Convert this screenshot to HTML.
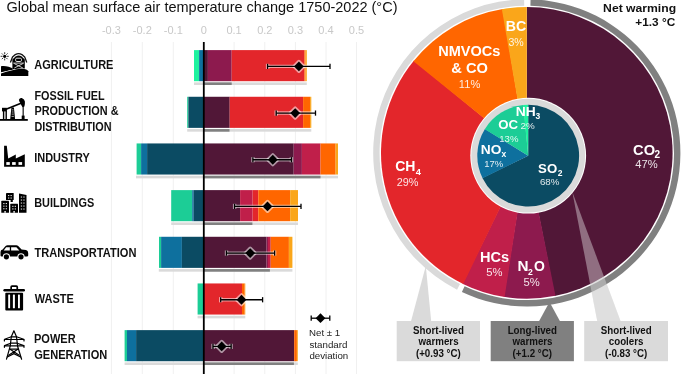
<!DOCTYPE html>
<html><head><meta charset="utf-8"><style>
html,body{margin:0;padding:0;background:#fff;overflow:hidden;}
svg{display:block;}
svg{will-change:transform;}
text{font-family:"Liberation Sans",sans-serif;}
</style></head><body>
<svg width="685" height="374" viewBox="0 0 685 374">
<rect width="685" height="374" fill="#fff"/>
<text x="6.48" y="12.30" font-size="14.5" font-weight="normal" fill="#111" textLength="391.01" lengthAdjust="spacingAndGlyphs">Global mean surface air temperature change 1750-2022 (°C)</text>
<line x1="111.40" y1="42" x2="111.40" y2="374" stroke="#f0f0f0" stroke-width="1"/>
<text x="111.40" y="33.8" font-size="11" text-anchor="middle" fill="#c8c8c8">-0.3</text>
<line x1="142.30" y1="42" x2="142.30" y2="374" stroke="#f0f0f0" stroke-width="1"/>
<text x="142.30" y="33.8" font-size="11" text-anchor="middle" fill="#c8c8c8">-0.2</text>
<line x1="173.30" y1="42" x2="173.30" y2="374" stroke="#f0f0f0" stroke-width="1"/>
<text x="173.30" y="33.8" font-size="11" text-anchor="middle" fill="#c8c8c8">-0.1</text>
<text x="203.80" y="33.8" font-size="11" text-anchor="middle" fill="#c8c8c8">0</text>
<line x1="234.10" y1="42" x2="234.10" y2="374" stroke="#f0f0f0" stroke-width="1"/>
<text x="234.10" y="33.8" font-size="11" text-anchor="middle" fill="#c8c8c8">0.1</text>
<line x1="264.80" y1="42" x2="264.80" y2="374" stroke="#f0f0f0" stroke-width="1"/>
<text x="264.80" y="33.8" font-size="11" text-anchor="middle" fill="#c8c8c8">0.2</text>
<line x1="295.40" y1="42" x2="295.40" y2="374" stroke="#f0f0f0" stroke-width="1"/>
<text x="295.40" y="33.8" font-size="11" text-anchor="middle" fill="#c8c8c8">0.3</text>
<line x1="326.00" y1="42" x2="326.00" y2="374" stroke="#f0f0f0" stroke-width="1"/>
<text x="326.00" y="33.8" font-size="11" text-anchor="middle" fill="#c8c8c8">0.4</text>
<line x1="356.50" y1="42" x2="356.50" y2="374" stroke="#f0f0f0" stroke-width="1"/>
<text x="356.50" y="33.8" font-size="11" text-anchor="middle" fill="#c8c8c8">0.5</text>
<rect x="194.00" y="50.10" width="5.10" height="31.1" fill="#1ef29f"/>
<rect x="199.10" y="50.10" width="4.70" height="31.1" fill="#0e709e"/>
<rect x="203.80" y="50.10" width="4.10" height="31.1" fill="#511737"/>
<rect x="207.90" y="50.10" width="23.80" height="31.1" fill="#8d1a4e"/>
<rect x="231.70" y="50.10" width="72.70" height="31.1" fill="#e3262b"/>
<rect x="304.40" y="50.10" width="1.20" height="31.1" fill="#ff6600"/>
<rect x="305.60" y="50.10" width="1.20" height="31.1" fill="#faa61a"/>
<rect x="194.00" y="82.40" width="112.80" height="2.6" fill="#dadada"/>
<rect x="203.80" y="82.40" width="27.90" height="2.6" fill="#808080"/>
<rect x="187.20" y="96.77" width="1.20" height="31.1" fill="#1ccd96"/>
<rect x="188.40" y="96.77" width="15.40" height="31.1" fill="#0b4b63"/>
<rect x="203.80" y="96.77" width="25.90" height="31.1" fill="#511737"/>
<rect x="229.70" y="96.77" width="73.40" height="31.1" fill="#e3262b"/>
<rect x="303.10" y="96.77" width="7.00" height="31.1" fill="#ff6600"/>
<rect x="310.10" y="96.77" width="1.20" height="31.1" fill="#faa61a"/>
<rect x="187.20" y="129.07" width="124.10" height="2.6" fill="#dadada"/>
<rect x="203.80" y="129.07" width="25.70" height="2.6" fill="#808080"/>
<rect x="136.60" y="143.44" width="4.50" height="31.1" fill="#1ccd96"/>
<rect x="141.10" y="143.44" width="6.00" height="31.1" fill="#0e709e"/>
<rect x="147.10" y="143.44" width="56.70" height="31.1" fill="#0b4b63"/>
<rect x="203.80" y="143.44" width="89.90" height="31.1" fill="#511737"/>
<rect x="293.70" y="143.44" width="8.20" height="31.1" fill="#8d1a4e"/>
<rect x="301.90" y="143.44" width="18.60" height="31.1" fill="#c01f4a"/>
<rect x="320.50" y="143.44" width="15.10" height="31.1" fill="#ff6600"/>
<rect x="335.60" y="143.44" width="2.40" height="31.1" fill="#faa61a"/>
<rect x="136.00" y="175.74" width="202.00" height="2.6" fill="#dadada"/>
<rect x="203.80" y="175.74" width="116.70" height="2.6" fill="#808080"/>
<rect x="171.20" y="190.11" width="21.00" height="31.1" fill="#1ccd96"/>
<rect x="192.20" y="190.11" width="1.50" height="31.1" fill="#0e709e"/>
<rect x="193.70" y="190.11" width="10.10" height="31.1" fill="#0b4b63"/>
<rect x="203.80" y="190.11" width="36.30" height="31.1" fill="#511737"/>
<rect x="240.10" y="190.11" width="12.50" height="31.1" fill="#c01f4a"/>
<rect x="252.60" y="190.11" width="5.70" height="31.1" fill="#e3262b"/>
<rect x="258.30" y="190.11" width="31.90" height="31.1" fill="#ff6600"/>
<rect x="290.20" y="190.11" width="7.80" height="31.1" fill="#faa61a"/>
<rect x="171.20" y="222.41" width="126.80" height="2.6" fill="#dadada"/>
<rect x="203.80" y="222.41" width="48.60" height="2.6" fill="#808080"/>
<rect x="159.00" y="236.78" width="2.10" height="31.1" fill="#1ccd96"/>
<rect x="161.10" y="236.78" width="20.80" height="31.1" fill="#0e709e"/>
<rect x="181.90" y="236.78" width="21.90" height="31.1" fill="#0b4b63"/>
<rect x="203.80" y="236.78" width="62.80" height="31.1" fill="#511737"/>
<rect x="266.60" y="236.78" width="1.40" height="31.1" fill="#8d1a4e"/>
<rect x="268.00" y="236.78" width="2.70" height="31.1" fill="#c01f4a"/>
<rect x="270.70" y="236.78" width="18.20" height="31.1" fill="#ff6600"/>
<rect x="288.90" y="236.78" width="3.50" height="31.1" fill="#faa61a"/>
<rect x="158.80" y="269.08" width="133.60" height="2.6" fill="#dadada"/>
<rect x="203.80" y="269.08" width="66.10" height="2.6" fill="#808080"/>
<rect x="197.60" y="283.45" width="6.20" height="31.1" fill="#1ccd96"/>
<rect x="203.80" y="283.45" width="38.20" height="31.1" fill="#e3262b"/>
<rect x="242.00" y="283.45" width="2.70" height="31.1" fill="#ff6600"/>
<rect x="244.70" y="283.45" width="0.60" height="31.1" fill="#faa61a"/>
<rect x="197.60" y="315.75" width="47.70" height="2.6" fill="#dadada"/>
<rect x="124.60" y="330.12" width="2.40" height="31.1" fill="#1ccd96"/>
<rect x="127.00" y="330.12" width="9.10" height="31.1" fill="#0e709e"/>
<rect x="136.10" y="330.12" width="67.70" height="31.1" fill="#0b4b63"/>
<rect x="203.80" y="330.12" width="90.40" height="31.1" fill="#511737"/>
<rect x="294.20" y="330.12" width="2.70" height="31.1" fill="#ff6600"/>
<rect x="296.90" y="330.12" width="0.90" height="31.1" fill="#faa61a"/>
<rect x="124.60" y="362.42" width="173.20" height="2.6" fill="#dadada"/>
<rect x="203.80" y="362.42" width="90.10" height="2.6" fill="#808080"/>
<line x1="203.8" y1="42" x2="203.8" y2="374" stroke="#000" stroke-width="1.8"/>
<g stroke="#fff" stroke-opacity="0.55" fill="none" stroke-width="3.4"><line x1="267.60" y1="66.40" x2="330.00" y2="66.40"/><line x1="267.60" y1="63.80" x2="267.60" y2="69.00"/><line x1="330.00" y1="63.80" x2="330.00" y2="69.00"/><path d="M294.00,66.40 L298.90,61.50 L303.80,66.40 L298.90,71.30 Z" stroke-linejoin="round"/></g>
<g stroke="#000" stroke-width="1.3" fill="none"><line x1="267.60" y1="66.40" x2="330.00" y2="66.40"/><line x1="267.60" y1="63.80" x2="267.60" y2="69.00"/><line x1="330.00" y1="63.80" x2="330.00" y2="69.00"/></g>
<path d="M294.00,66.40 L298.90,61.50 L303.80,66.40 L298.90,71.30 Z" fill="#000"/>
<g stroke="#fff" stroke-opacity="0.55" fill="none" stroke-width="3.4"><line x1="276.20" y1="113.07" x2="315.50" y2="113.07"/><line x1="276.20" y1="110.47" x2="276.20" y2="115.67"/><line x1="315.50" y1="110.47" x2="315.50" y2="115.67"/><path d="M290.30,113.07 L295.20,108.17 L300.10,113.07 L295.20,117.97 Z" stroke-linejoin="round"/></g>
<g stroke="#000" stroke-width="1.3" fill="none"><line x1="276.20" y1="113.07" x2="315.50" y2="113.07"/><line x1="276.20" y1="110.47" x2="276.20" y2="115.67"/><line x1="315.50" y1="110.47" x2="315.50" y2="115.67"/></g>
<path d="M290.30,113.07 L295.20,108.17 L300.10,113.07 L295.20,117.97 Z" fill="#000"/>
<g stroke="#fff" stroke-opacity="0.55" fill="none" stroke-width="3.4"><line x1="252.90" y1="159.74" x2="291.40" y2="159.74"/><line x1="252.90" y1="157.14" x2="252.90" y2="162.34"/><line x1="291.40" y1="157.14" x2="291.40" y2="162.34"/><path d="M267.90,159.74 L272.80,154.84 L277.70,159.74 L272.80,164.64 Z" stroke-linejoin="round"/></g>
<g stroke="#000" stroke-width="1.3" fill="none"><line x1="252.90" y1="159.74" x2="291.40" y2="159.74"/><line x1="252.90" y1="157.14" x2="252.90" y2="162.34"/><line x1="291.40" y1="157.14" x2="291.40" y2="162.34"/></g>
<path d="M267.90,159.74 L272.80,154.84 L277.70,159.74 L272.80,164.64 Z" fill="#000"/>
<g stroke="#fff" stroke-opacity="0.55" fill="none" stroke-width="3.4"><line x1="234.60" y1="206.41" x2="301.00" y2="206.41"/><line x1="234.60" y1="203.81" x2="234.60" y2="209.01"/><line x1="301.00" y1="203.81" x2="301.00" y2="209.01"/><path d="M262.60,206.41 L267.50,201.51 L272.40,206.41 L267.50,211.31 Z" stroke-linejoin="round"/></g>
<g stroke="#000" stroke-width="1.3" fill="none"><line x1="234.60" y1="206.41" x2="301.00" y2="206.41"/><line x1="234.60" y1="203.81" x2="234.60" y2="209.01"/><line x1="301.00" y1="203.81" x2="301.00" y2="209.01"/></g>
<path d="M262.60,206.41 L267.50,201.51 L272.40,206.41 L267.50,211.31 Z" fill="#000"/>
<g stroke="#fff" stroke-opacity="0.55" fill="none" stroke-width="3.4"><line x1="226.50" y1="253.08" x2="274.60" y2="253.08"/><line x1="226.50" y1="250.48" x2="226.50" y2="255.68"/><line x1="274.60" y1="250.48" x2="274.60" y2="255.68"/><path d="M245.30,253.08 L250.20,248.18 L255.10,253.08 L250.20,257.98 Z" stroke-linejoin="round"/></g>
<g stroke="#000" stroke-width="1.3" fill="none"><line x1="226.50" y1="253.08" x2="274.60" y2="253.08"/><line x1="226.50" y1="250.48" x2="226.50" y2="255.68"/><line x1="274.60" y1="250.48" x2="274.60" y2="255.68"/></g>
<path d="M245.30,253.08 L250.20,248.18 L255.10,253.08 L250.20,257.98 Z" fill="#000"/>
<g stroke="#fff" stroke-opacity="0.55" fill="none" stroke-width="3.4"><line x1="220.70" y1="299.75" x2="262.60" y2="299.75"/><line x1="220.70" y1="297.15" x2="220.70" y2="302.35"/><line x1="262.60" y1="297.15" x2="262.60" y2="302.35"/><path d="M236.60,299.75 L241.50,294.85 L246.40,299.75 L241.50,304.65 Z" stroke-linejoin="round"/></g>
<g stroke="#000" stroke-width="1.3" fill="none"><line x1="220.70" y1="299.75" x2="262.60" y2="299.75"/><line x1="220.70" y1="297.15" x2="220.70" y2="302.35"/><line x1="262.60" y1="297.15" x2="262.60" y2="302.35"/></g>
<path d="M236.60,299.75 L241.50,294.85 L246.40,299.75 L241.50,304.65 Z" fill="#000"/>
<g stroke="#fff" stroke-opacity="0.55" fill="none" stroke-width="3.4"><line x1="213.00" y1="346.42" x2="231.10" y2="346.42"/><line x1="213.00" y1="343.82" x2="213.00" y2="349.02"/><line x1="231.10" y1="343.82" x2="231.10" y2="349.02"/><path d="M216.80,346.42 L221.70,341.52 L226.60,346.42 L221.70,351.32 Z" stroke-linejoin="round"/></g>
<g stroke="#000" stroke-width="1.3" fill="none"><line x1="213.00" y1="346.42" x2="231.10" y2="346.42"/><line x1="213.00" y1="343.82" x2="213.00" y2="349.02"/><line x1="231.10" y1="343.82" x2="231.10" y2="349.02"/></g>
<path d="M216.80,346.42 L221.70,341.52 L226.60,346.42 L221.70,351.32 Z" fill="#000"/>
<g stroke="#000" stroke-width="1.3" fill="none"><line x1="311.20" y1="318.20" x2="329.80" y2="318.20"/><line x1="311.20" y1="315.60" x2="311.20" y2="320.80"/><line x1="329.80" y1="315.60" x2="329.80" y2="320.80"/></g>
<path d="M315.60,318.20 L320.50,313.30 L325.40,318.20 L320.50,323.10 Z" fill="#000"/>
<text x="309.02" y="336.00" font-size="9.6" font-weight="normal" fill="#222" textLength="31.18" lengthAdjust="spacingAndGlyphs">Net ± 1</text>
<text x="309.51" y="347.50" font-size="9.6" font-weight="normal" fill="#222" textLength="37.94" lengthAdjust="spacingAndGlyphs">standard</text>
<text x="309.41" y="359.00" font-size="9.6" font-weight="normal" fill="#222" textLength="38.85" lengthAdjust="spacingAndGlyphs">deviation</text>
<text x="34.33" y="68.70" font-size="12.8" font-weight="bold" fill="#111" textLength="79.09" lengthAdjust="spacingAndGlyphs">AGRICULTURE</text>
<text x="34.40" y="99.70" font-size="12.8" font-weight="bold" fill="#111" textLength="70.25" lengthAdjust="spacingAndGlyphs">FOSSIL FUEL</text>
<text x="34.39" y="115.20" font-size="12.8" font-weight="bold" fill="#111" textLength="84.16" lengthAdjust="spacingAndGlyphs">PRODUCTION &amp;</text>
<text x="34.39" y="130.90" font-size="12.8" font-weight="bold" fill="#111" textLength="77.22" lengthAdjust="spacingAndGlyphs">DISTRIBUTION</text>
<text x="34.19" y="162.10" font-size="12.8" font-weight="bold" fill="#111" textLength="55.52" lengthAdjust="spacingAndGlyphs">INDUSTRY</text>
<text x="34.19" y="207.30" font-size="12.8" font-weight="bold" fill="#111" textLength="59.99" lengthAdjust="spacingAndGlyphs">BUILDINGS</text>
<text x="34.59" y="256.50" font-size="12.8" font-weight="bold" fill="#111" textLength="101.83" lengthAdjust="spacingAndGlyphs">TRANSPORTATION</text>
<text x="34.70" y="302.70" font-size="12.8" font-weight="bold" fill="#111" textLength="39.09" lengthAdjust="spacingAndGlyphs">WASTE</text>
<text x="33.98" y="342.70" font-size="12.8" font-weight="bold" fill="#111" textLength="41.77" lengthAdjust="spacingAndGlyphs">POWER</text>
<text x="34.26" y="358.80" font-size="12.8" font-weight="bold" fill="#111" textLength="72.99" lengthAdjust="spacingAndGlyphs">GENERATION</text>
<g id="icons">
<!-- agriculture -->
<g fill="#000">
<circle cx="4.7" cy="56.3" r="1.6"/>
<g stroke="#000" stroke-width="0.8" stroke-linecap="round">
<line x1="4.7" y1="52.6" x2="4.7" y2="53.7"/><line x1="4.7" y1="58.9" x2="4.7" y2="60"/>
<line x1="1" y1="56.3" x2="2.1" y2="56.3"/><line x1="7.3" y1="56.3" x2="8.4" y2="56.3"/>
<line x1="2.1" y1="53.7" x2="2.8" y2="54.4"/><line x1="6.6" y1="58.2" x2="7.3" y2="58.9"/>
<line x1="7.3" y1="53.7" x2="6.6" y2="54.4"/><line x1="2.8" y1="58.2" x2="2.1" y2="58.9"/>
</g>
<path d="M10.4,62.6 L12.5,57 L15.3,54.6 Q18.6,52.8 21.9,54.6 L24.7,57 L26.8,62.6" fill="none" stroke="#111" stroke-width="1.3" stroke-linejoin="round"/>
<path d="M12.4,69 L12.4,59.5 L15.6,56.4 Q18.6,54.8 21.6,56.4 L24.8,59.5 L24.8,69 Z"/>
<rect x="15.6" y="58.2" width="5.9" height="3.3" rx="1.2" fill="none" stroke="#fff" stroke-width="0.9"/>
<g stroke="#fff" stroke-width="0.8" fill="none"><path d="M13.2,63.1 L24,63.1"/><path d="M14.3,63.6 L22.9,68 M22.9,63.6 L14.3,68"/></g>
<path d="M1,66.2 C5,65.6 9.5,66.4 14,69.4 L1,72.2 Z"/>
<path d="M1,73.4 C8,71.2 15,69.2 21,68.8 C25,68.6 27.6,69.6 28.3,71.2 L28.3,75.9 L1,75.9 Z" stroke="#fff" stroke-width="1.1" paint-order="stroke"/>
</g>
<!-- fossil fuel pumpjack -->
<g fill="#000">
<rect x="0" y="119" width="27.8" height="1.8"/>
<rect x="2.0" y="107.8" width="4.9" height="3.6"/>
<rect x="2.9" y="111" width="1.4" height="8.2"/><rect x="5.5" y="111" width="1.4" height="8.2"/>
<line x1="6" y1="109.2" x2="21" y2="103.2" stroke="#000" stroke-width="1.7"/>
<path d="M11.4,107.5 L13.9,107.5 L15.1,119.2 L10.2,119.2 Z"/>
<g stroke="#fff" stroke-width="0.65"><line x1="11.9" y1="109.9" x2="13.5" y2="109.9"/><line x1="11.8" y1="112" x2="13.6" y2="112"/><line x1="11.7" y1="114.1" x2="13.8" y2="114.1"/><line x1="11.5" y1="116.4" x2="13.9" y2="116.4"/></g>
<path d="M18.9,99.8 Q19.8,97.6 21.8,98.1 Q24.6,99.2 24.9,101.5 Q25.1,104.5 24.4,106.6 L22.6,107.2 Q21.2,105 20.4,103.2 Q19.1,101.8 18.9,99.8 Z"/>
<rect x="22.6" y="106" width="1.1" height="10"/>
<rect x="21.7" y="115.6" width="2.9" height="3.6"/>
</g>
<!-- industry -->
<path d="M4.1,145.8 L6.8,145.8 L8.2,158.6 L15.8,154.4 L15.8,158.6 L24.8,154.2 L24.8,166.8 L4.1,166.8 Z" fill="#000"/>
<g fill="#fff"><rect x="6.3" y="162.1" width="3.5" height="2.8"/><rect x="12.1" y="162.1" width="3.6" height="2.8"/><rect x="18.5" y="162.1" width="3.6" height="2.8"/></g>
<!-- buildings -->
<g fill="#000">
<rect x="6" y="193.1" width="7.7" height="7" rx="0.4"/>
<rect x="10.6" y="199.5" width="2.2" height="2.5"/>
<rect x="1.3" y="200.8" width="7.7" height="12" rx="0.4"/>
<rect x="10.3" y="203.8" width="7.7" height="9" rx="0.4"/>
<path d="M19,193.5 L26.5,194.9 L26.5,212.8 L19,212.8 Z"/>
</g>
<g fill="#fff" fill-opacity="0.85">
<rect x="8" y="195" width="1.3" height="1.1"/><rect x="10.5" y="195" width="1.3" height="1.1"/>
<rect x="8" y="197.5" width="1.3" height="1.1"/><rect x="10.5" y="197.5" width="1.3" height="1.1"/>
<rect x="3.2" y="203" width="1.3" height="1.1"/><rect x="5.7" y="203" width="1.3" height="1.1"/>
<rect x="3.2" y="205.6" width="1.3" height="1.1"/><rect x="5.7" y="205.6" width="1.3" height="1.1"/>
<rect x="3.2" y="208.2" width="1.3" height="1.1"/><rect x="5.7" y="208.2" width="1.3" height="1.1"/>
<rect x="4.3" y="211" width="1.6" height="1.8"/>
<rect x="12.2" y="205.8" width="1.3" height="1.1"/><rect x="14.7" y="205.8" width="1.3" height="1.1"/>
<rect x="12.2" y="208.4" width="1.3" height="1.1"/><rect x="14.7" y="208.4" width="1.3" height="1.1"/>
<rect x="13.3" y="211" width="1.6" height="1.8"/>
<rect x="20.8" y="196.5" width="1.3" height="1.1"/><rect x="23.3" y="196.5" width="1.3" height="1.1"/>
<rect x="20.8" y="199.5" width="1.3" height="1.1"/><rect x="23.3" y="199.5" width="1.3" height="1.1"/>
<rect x="20.8" y="202.5" width="1.3" height="1.1"/><rect x="23.3" y="202.5" width="1.3" height="1.1"/>
<rect x="20.8" y="205.5" width="1.3" height="1.1"/><rect x="23.3" y="205.5" width="1.3" height="1.1"/>
<rect x="20.8" y="208.5" width="1.3" height="1.1"/><rect x="23.3" y="208.5" width="1.3" height="1.1"/>
</g>
<!-- car -->
<path d="M0.5,252 Q0.5,249.9 2.6,249.6 L5.6,246.1 Q6.3,245.2 7.6,245.2 L16.4,245.2 Q17.4,245.2 18.2,246 L21.6,249.5 L26,250 Q28.2,250.5 28.2,253 L28.2,255.6 Q28.2,256.6 27,256.6 L1.6,256.6 Q0.5,256.6 0.5,255.6 Z" fill="#000"/>
<g fill="#fff"><path d="M3.7,250.5 L6.1,247.3 L9.8,247.3 L9.8,250.5 Z"/><path d="M11.1,247.3 L16.4,247.3 L19.3,250.5 L11.1,250.5 Z"/>
<circle cx="6.4" cy="256.8" r="3.6"/><circle cx="21" cy="256.8" r="3.6"/></g>
<g fill="#000"><circle cx="6.4" cy="256.8" r="2.6"/><circle cx="21" cy="256.8" r="2.6"/></g>
<!-- waste -->
<g fill="#000">
<path d="M10.3,289.2 L10.3,287 Q10.3,285.3 12,285.3 L16.4,285.3 Q18.1,285.3 18.1,287 L18.1,289.2 L16.4,289.2 L16.4,287.1 L12,287.1 L12,289.2 Z"/>
<rect x="3.4" y="289" width="21.6" height="2.5" rx="1.2"/>
<rect x="5.3" y="292.8" width="17.8" height="17.6" rx="0.9"/>
</g>
<g fill="#fff"><rect x="8.2" y="294.6" width="1.9" height="13.6" rx="0.5"/><rect x="12.9" y="294.6" width="2.0" height="13.6" rx="0.5"/><rect x="18" y="294.6" width="1.9" height="13.6" rx="0.5"/></g>
<!-- power tower -->
<g fill="none" stroke="#000" stroke-width="1.2" stroke-linejoin="round" stroke-linecap="round">
<path d="M13.9,330.8 L11.3,336.7 L10.2,346.2 L6.5,359.2 M13.9,330.8 L16.5,336.7 L17.6,346.2 L21.6,359.2"/>
<path d="M4.4,341 L4.4,339.5 L24,339.5 L24,341"/>
<path d="M4.4,347.3 L4.4,345.8 L24,345.8 L24,347.3"/>
<path d="M4.6,339.3 L11.3,336.8 L16.5,336.8 L23.8,339.3"/>
<path d="M4.6,345.6 L10.6,343.2 L17.2,343.2 L23.8,345.6"/>
<path d="M10.1,349.2 L17.8,349.2"/>
<path d="M10.1,349.2 L19.2,355.2 M17.8,349.2 L8.6,355.2"/>
<path d="M7.3,357 L13.9,353.6 L20.6,357"/>
</g>
</g>

<path d="M425.8,266 L411,321.2 L431.2,321.2 Z" fill="#dadada"/>
<path d="M549.5,302 L539,321.2 L560,321.2 Z" fill="#808080"/>
<path d="M572.2,191.4 L597.3,321.2 L620.6,321.2 Z" fill="#dadada"/>
<path d="M526.80,152.90 L526.80,7.10 A145.8,145.8 0 0 1 554.62,296.02 Z" fill="#511737"/>
<path d="M526.80,152.90 L555.49,295.85 A145.8,145.8 0 0 1 503.74,296.86 Z" fill="#8d1a4e"/>
<path d="M526.80,152.90 L504.62,297.00 A145.8,145.8 0 0 1 462.43,283.72 Z" fill="#c01f4a"/>
<path d="M526.80,152.90 L463.23,284.11 A145.8,145.8 0 0 1 413.97,60.55 Z" fill="#e3262b"/>
<path d="M526.80,152.90 L413.41,61.24 A145.8,145.8 0 0 1 502.74,9.10 Z" fill="#ff6600"/>
<path d="M526.80,152.90 L501.86,9.25 A145.8,145.8 0 0 1 526.80,7.10 Z" fill="#faa61a"/>
<path d="M530.55,-0.65 A153.6,153.6 0 1 1 461.89,292.11 L464.59,286.31 A147.2,147.2 0 1 0 530.40,5.74 Z" fill="#808080"/>
<path d="M457.07,289.76 A153.6,153.6 0 0 1 524.12,-0.68 L524.23,5.72 A147.2,147.2 0 0 0 459.97,284.06 Z" fill="#dadada"/>
<circle cx="528.2" cy="155.7" r="57.9" fill="#fff"/>
<circle cx="528.2" cy="155.7" r="56.9" fill="#dadada"/>
<path d="M528.20,155.70 L528.20,104.80 A50.9,50.9 0 1 1 482.45,178.01 Z" fill="#0b4b63"/>
<path d="M528.20,155.70 L482.59,178.29 A50.9,50.9 0 0 1 484.94,128.88 Z" fill="#0e709e"/>
<path d="M528.20,155.70 L484.78,129.14 A50.9,50.9 0 0 1 523.41,105.03 Z" fill="#1ccd96"/>
<path d="M528.20,155.70 L523.10,105.06 A50.9,50.9 0 0 1 528.20,104.80 Z" fill="#1ef29f"/>
<path d="M572.2,191.4 L597.3,321.2 L620.6,321.2 Z" fill="#e6e6e6" fill-opacity="0.42"/>
<rect x="396.7" y="321" width="83.3" height="40.2" fill="#dadada"/>
<rect x="490.7" y="321" width="83.2" height="40.2" fill="#808080"/>
<rect x="584.2" y="321" width="83.8" height="40.2" fill="#dadada"/>
<text x="413.07" y="333.60" font-size="10.0" font-weight="bold" fill="#111" textLength="50.92" lengthAdjust="spacingAndGlyphs">Short-lived</text>
<text x="418.48" y="345.20" font-size="10.0" font-weight="bold" fill="#111" textLength="40.11" lengthAdjust="spacingAndGlyphs">warmers</text>
<text x="415.93" y="356.80" font-size="10.0" font-weight="bold" fill="#111" textLength="44.81" lengthAdjust="spacingAndGlyphs">(+0.93 °C)</text>
<text x="507.66" y="333.60" font-size="10.0" font-weight="bold" fill="#111" textLength="49.29" lengthAdjust="spacingAndGlyphs">Long-lived</text>
<text x="512.43" y="345.20" font-size="10.0" font-weight="bold" fill="#111" textLength="40.11" lengthAdjust="spacingAndGlyphs">warmers</text>
<text x="512.61" y="356.80" font-size="10.0" font-weight="bold" fill="#111" textLength="39.39" lengthAdjust="spacingAndGlyphs">(+1.2 °C)</text>
<text x="600.82" y="333.60" font-size="10.0" font-weight="bold" fill="#111" textLength="50.92" lengthAdjust="spacingAndGlyphs">Short-lived</text>
<text x="608.77" y="345.20" font-size="10.0" font-weight="bold" fill="#111" textLength="34.68" lengthAdjust="spacingAndGlyphs">coolers</text>
<text x="604.92" y="356.80" font-size="10.0" font-weight="bold" fill="#111" textLength="42.37" lengthAdjust="spacingAndGlyphs">(-0.83 °C)</text>
<text x="633.11" y="154.60" font-size="14" font-weight="bold" fill="#fff" textLength="21.94" lengthAdjust="spacingAndGlyphs">CO</text>
<text x="654.60" y="158.00" font-size="10" font-weight="bold" fill="#fff">2</text>
<text x="635.32" y="168.10" font-size="11" font-weight="normal" fill="#fff" fill-opacity="0.88" textLength="22.39" lengthAdjust="spacingAndGlyphs">47%</text>
<text x="395.14" y="170.80" font-size="14" font-weight="bold" fill="#fff" textLength="20.23" lengthAdjust="spacingAndGlyphs">CH</text>
<text x="415.80" y="174.90" font-size="9.3" font-weight="bold" fill="#fff">4</text>
<text x="396.76" y="185.50" font-size="11" font-weight="normal" fill="#fff" fill-opacity="0.88" textLength="21.74" lengthAdjust="spacingAndGlyphs">29%</text>
<text x="438.16" y="56.20" font-size="14" font-weight="bold" fill="#fff" textLength="62.18" lengthAdjust="spacingAndGlyphs">NMVOCs</text>
<text x="451.24" y="73.10" font-size="14" font-weight="bold" fill="#fff" textLength="36.62" lengthAdjust="spacingAndGlyphs">&amp; CO</text>
<text x="458.87" y="88.20" font-size="11" font-weight="normal" fill="#fff" fill-opacity="0.88" textLength="21.39" lengthAdjust="spacingAndGlyphs">11%</text>
<text x="505.68" y="30.90" font-size="14" font-weight="bold" fill="#fff" textLength="20.44" lengthAdjust="spacingAndGlyphs">BC</text>
<text x="508.38" y="45.90" font-size="11" font-weight="normal" fill="#fff" fill-opacity="0.88" textLength="15.30" lengthAdjust="spacingAndGlyphs">3%</text>
<text x="479.95" y="261.80" font-size="14" font-weight="bold" fill="#fff" textLength="29.14" lengthAdjust="spacingAndGlyphs">HCs</text>
<text x="486.35" y="276.00" font-size="11" font-weight="normal" fill="#fff" fill-opacity="0.88" textLength="16.25" lengthAdjust="spacingAndGlyphs">5%</text>
<text x="517.41" y="271.30" font-size="14" font-weight="bold" fill="#fff" textLength="11.02" lengthAdjust="spacingAndGlyphs">N</text>
<text x="528.10" y="275.40" font-size="8.6" font-weight="bold" fill="#fff">2</text>
<text x="534.04" y="271.30" font-size="14" font-weight="bold" fill="#fff" textLength="10.86" lengthAdjust="spacingAndGlyphs">O</text>
<text x="523.55" y="285.60" font-size="11" font-weight="normal" fill="#fff" fill-opacity="0.88" textLength="16.25" lengthAdjust="spacingAndGlyphs">5%</text>
<text x="515.80" y="116.00" font-size="13" font-weight="bold" fill="#fff" textLength="19.96" lengthAdjust="spacingAndGlyphs">NH</text>
<text x="535.50" y="119.40" font-size="8.5" font-weight="bold" fill="#fff">3</text>
<text x="520.61" y="129.10" font-size="9.6" font-weight="normal" fill="#fff" fill-opacity="0.88" textLength="14.24" lengthAdjust="spacingAndGlyphs">2%</text>
<text x="498.17" y="128.70" font-size="13" font-weight="bold" fill="#fff" textLength="19.86" lengthAdjust="spacingAndGlyphs">OC</text>
<text x="499.28" y="141.70" font-size="9.6" font-weight="normal" fill="#fff" fill-opacity="0.88" textLength="19.17" lengthAdjust="spacingAndGlyphs">13%</text>
<text x="480.71" y="154.00" font-size="13" font-weight="bold" fill="#fff" textLength="20.61" lengthAdjust="spacingAndGlyphs">NO</text>
<text x="501.60" y="156.90" font-size="8.5" font-weight="bold" fill="#fff">x</text>
<text x="484.29" y="167.20" font-size="9.6" font-weight="normal" fill="#fff" fill-opacity="0.88" textLength="18.96" lengthAdjust="spacingAndGlyphs">17%</text>
<text x="538.10" y="172.60" font-size="13" font-weight="bold" fill="#fff" textLength="19.09" lengthAdjust="spacingAndGlyphs">SO</text>
<text x="557.80" y="176.00" font-size="8.5" font-weight="bold" fill="#fff">2</text>
<text x="539.91" y="184.90" font-size="9.6" font-weight="normal" fill="#fff" fill-opacity="0.88" textLength="19.54" lengthAdjust="spacingAndGlyphs">68%</text>
<text x="603.11" y="11.80" font-size="11.5" font-weight="bold" fill="#111" textLength="72.99" lengthAdjust="spacingAndGlyphs">Net warming</text>
<text x="635.33" y="25.90" font-size="11.5" font-weight="bold" fill="#111" textLength="39.92" lengthAdjust="spacingAndGlyphs">+1.3 °C</text>
</svg>
</body></html>
